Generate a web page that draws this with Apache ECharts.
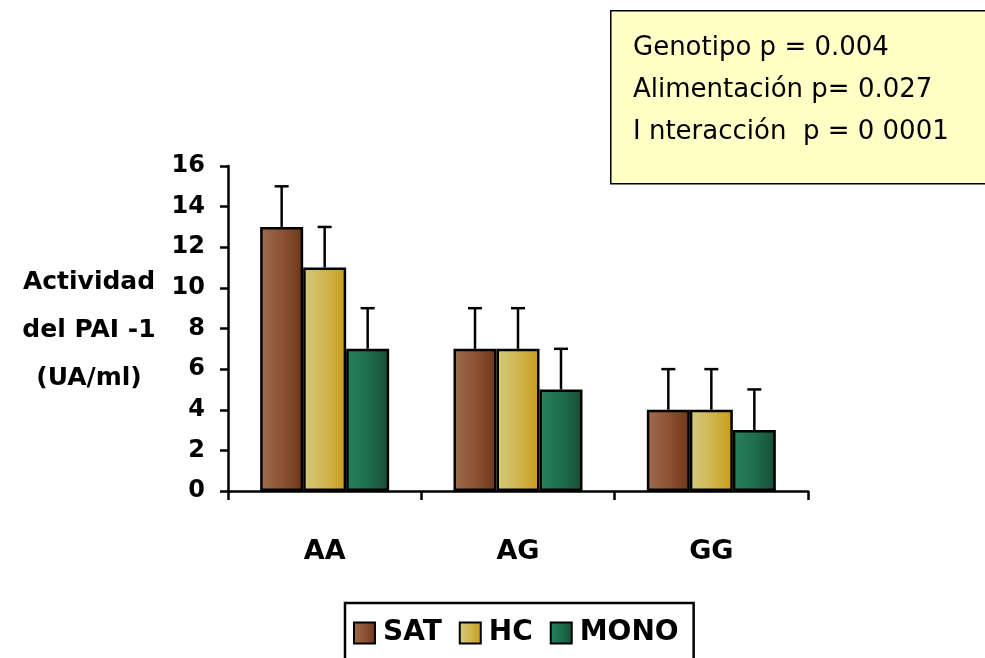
<!DOCTYPE html>
<html>
<head>
<meta charset="utf-8">
<script src="https://cdn.jsdelivr.net/npm/echarts@6/dist/echarts.min.js"></script>
<style>
html,body{margin:0;padding:0;background:#fff;}
#chart{width:985px;height:658px;}
</style>
</head>
<body>
<div id="chart"></div>
<script>
// Genotype groups and diet series for PAI-1 activity
const categories = ['AA', 'AG', 'GG'];
const seriesNames = ['SAT', 'HC', 'MONO'];
const satValues = [13, 7, 4];
const hcValues = [11, 7, 4];
const monoValues = [7, 5, 3];
const satErrors = [2, 2, 2];
const hcErrors = [2, 2, 2];
const monoErrors = [2, 2, 2];
const yTicks = [0, 2, 4, 6, 8, 10, 12, 14, 16];
const statsLines = ['Genotipo p = 0.004', 'Alimentación p= 0.027', 'I nteracción  p = 0 0001'];
const yAxisTitle = ['Actividad', 'del PAI -1', '(UA/ml)'];

const chart = echarts.init(document.getElementById('chart'));

// Horizontal shading: lighter on the left edge, darker on the right
function grad(c1, c2, c3) {
  return new echarts.graphic.LinearGradient(0, 0, 1, 0, [
    { offset: 0, color: c1 },
    { offset: 0.5, color: c2 },
    { offset: 1, color: c3 }
  ]);
}
const fills = [
  grad('#9e6c4e', '#8c5333', '#6c3619'),
  grad('#d3ca7c', '#d0b650', '#c99c18'),
  grad('#26825b', '#1f6e4c', '#174e36')
];

const values = [satValues, hcValues, monoValues];
const errors = [satErrors, hcErrors, monoErrors];
const barWidth = 43;

const barSeries = seriesNames.map((name, i) => ({
  name: name,
  type: 'bar',
  data: values[i],
  barWidth: barWidth,
  barGap: '0%',
  itemStyle: { color: fills[i], borderColor: '#000', borderWidth: 2.5 },
  z: 2
}));

// Upper error whiskers, drawn as custom shapes over each bar
const errSeries = seriesNames.map((name, i) => ({
  type: 'custom',
  name: name + '_err',
  data: values[i].map((v, j) => [j, v, v + errors[i][j]]),
  z: 3,
  silent: true,
  renderItem: function (params, api) {
    const c = api.value(0);
    const base = api.coord([c, api.value(1)]);
    const top = api.coord([c, api.value(2)]);
    const offset = (i - 1) * barWidth;
    const x = base[0] + offset;
    const cap = 7;
    const st = { stroke: '#000', lineWidth: 2.5 };
    return {
      type: 'group',
      children: [
        { type: 'line', shape: { x1: x, y1: base[1], x2: x, y2: top[1] }, style: st },
        { type: 'line', shape: { x1: x - cap, y1: top[1], x2: x + cap, y2: top[1] }, style: st }
      ]
    };
  }
}));

const boldFont = 'DejaVu Sans';

chart.setOption({
  animation: false,
  backgroundColor: '#fff',
  grid: { left: 228, right: 177, top: 166, bottom: 167 },
  xAxis: {
    type: 'category',
    data: categories,
    axisLine: { lineStyle: { color: '#000', width: 2.5 } },
    axisTick: { show: true, length: 9, lineStyle: { color: '#000', width: 2.5 } },
    axisLabel: { color: '#000', fontFamily: boldFont, fontWeight: 'bold', fontSize: 27, margin: 47 }
  },
  yAxis: {
    type: 'value',
    min: yTicks[0],
    max: yTicks[yTicks.length - 1],
    interval: 2,
    splitLine: { show: false },
    axisLine: { show: true, lineStyle: { color: '#000', width: 2.5 } },
    axisTick: { show: true, length: 8, lineStyle: { color: '#000', width: 2.5 } },
    axisLabel: { color: '#000', fontFamily: boldFont, fontWeight: 'bold', fontSize: 24, margin: 23 }
  },
  legend: {
    data: seriesNames.map((n, i) => ({ name: n, itemStyle: { color: fills[i] } })),
    left: 345,
    top: 603,
    padding: [16, 15, 40, 8],
    itemGap: 17,
    itemWidth: 21,
    itemHeight: 21,
    icon: 'rect',
    borderColor: '#000',
    borderWidth: 2.5,
    itemStyle: { borderColor: '#000', borderWidth: 2 },
    textStyle: { color: '#000', fontFamily: boldFont, fontWeight: 'bold', fontSize: 28, padding: [0, 0, 0, 3] }
  },
  graphic: [
    {
      type: 'rect',
      left: 610, top: 10,
      shape: { width: 390, height: 173 },
      style: { fill: '#ffffc6', stroke: '#000', lineWidth: 1.5 },
      z: 1
    },
    ...statsLines.map((t, k) => ({
      type: 'text',
      x: 633, y: 48 + k * 42,
      style: { text: t, fill: '#000', font: '26px "DejaVu Sans"', verticalAlign: 'middle' },
      z: 2
    })),
    ...yAxisTitle.map((t, k) => ({
      type: 'text',
      x: 89, y: 282 + k * 48,
      style: { text: t, fill: '#000', font: 'bold 25px "DejaVu Sans"', align: 'center', verticalAlign: 'middle' },
      z: 2
    }))
  ],
  series: [...barSeries, ...errSeries]
});
</script>
</body>
</html>
